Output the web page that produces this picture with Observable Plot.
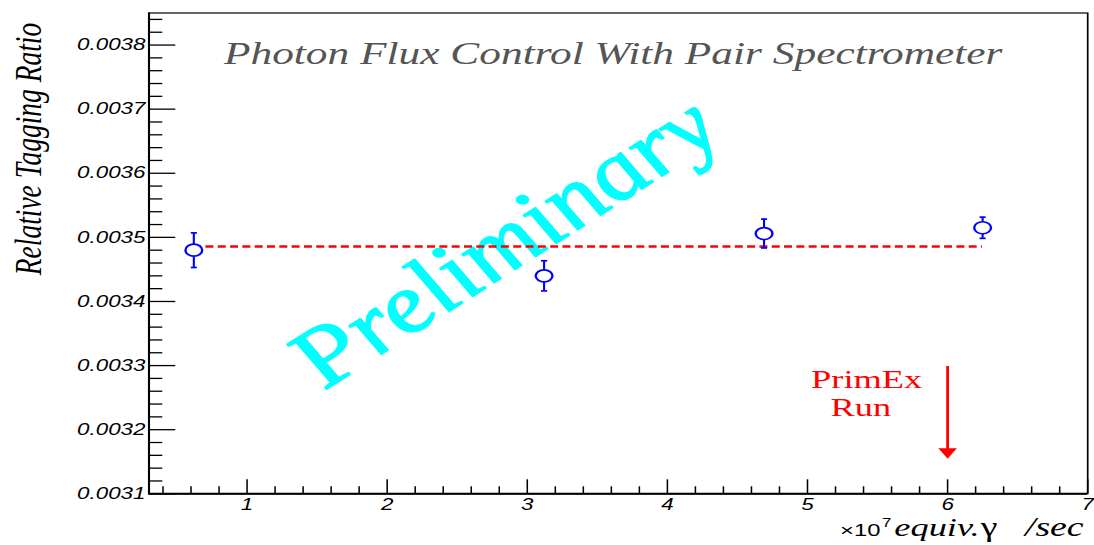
<!DOCTYPE html>
<html>
<head>
<meta charset="utf-8">
<script src="https://cdn.jsdelivr.net/npm/d3@7"></script>
<script src="https://cdn.jsdelivr.net/npm/@observablehq/plot@0.6"></script>
<style>
  html, body { margin: 0; padding: 0; background: white; }
  #chart svg { display: block; }
</style>
</head>
<body>
<div id="chart"></div>
<script>
// ---- data ----
const rate = [0.62, 3.12, 4.69, 6.25];                       // x10^7 equiv. gamma / sec
const ratio = [0.003480, 0.003440, 0.003506, 0.003515];      // relative tagging ratio
const ratioErr = [0.000027, 0.0000235, 0.0000225, 0.0000165];
const fitValue = 0.0034856;                                   // constant fit (dashed red)
const yTicks = [0.0031, 0.0032, 0.0033, 0.0034, 0.0035, 0.0036, 0.0037, 0.0038];
const xTicks = [1, 2, 3, 4, 5, 6, 7];
const arrowX = [6];
const arrowTop = 0.0032985;
const arrowTip = 0.0031546;
const titleText = ["Photon Flux Control With Pair Spectrometer"];
const yLabel = ["Relative Tagging Ratio"];
const watermark = ["Preliminary"];

// ---- layout (drawn narrow, then stretched horizontally like the reference) ----
const W = 782, H = 545, OUT_W = 1094;
const mL = 106, mR = 5, mT = 12.5, mB = 51.7;
const plotW = W - mL - mR, plotH = H - mT - mB;
const R = W - mR;

const points = rate.map((x, i) => ({x, y: ratio[i], lo: ratio[i] - ratioErr[i], hi: ratio[i] + ratioErr[i]}));
const yMinor = d3.range(155, 193).filter(i => i % 5 !== 0).map(i => i * 0.00002);
const xMinor = d3.range(2, 35).filter(i => i % 5 !== 0).map(i => i / 5);

const blue = "#0000ff", red = "#ff0000";
const capSymbol = {draw(ctx) { ctx.moveTo(-2.2, 0); ctx.lineTo(2.2, 0); }};
const downTriangle = {draw(ctx) { ctx.moveTo(-6.6, -10.5); ctx.lineTo(6.6, -10.5); ctx.lineTo(0, 0); ctx.closePath(); }};
const serif = "Liberation Serif";
const sans = "Liberation Sans";

const svg = Plot.plot({
  width: W, height: H,
  marginLeft: mL, marginRight: mR, marginTop: mT, marginBottom: mB,
  style: {fontFamily: sans, fontSize: "16px", background: "white", color: "black"},
  x: {domain: [0.3, 7]},
  y: {domain: [0.0031, 0.00385]},
  marks: [
    // watermark
    Plot.text(watermark, {text: d => d, frameAnchor: "top-left", dx: 253.6, dy: 229.5, rotate: -41.6,
      textAnchor: "middle", lineAnchor: "middle", fontSize: 80, fontStyle: "italic", fontFamily: serif,
      fill: "#00ffff", stroke: "#00ffff", strokeWidth: 1.3}),
    // frame
    Plot.frame({stroke: "black", strokeWidth: 1.2}),
    Plot.ruleX([0.3], {stroke: "black", strokeWidth: 1.5}),
    Plot.ruleY([0.0031], {stroke: "black", strokeWidth: 2}),
    // y ticks (inside)
    Plot.ruleY(yTicks, {stroke: "black", strokeWidth: 1.3, insetRight: plotW - 19.3}),
    Plot.ruleY(yMinor, {stroke: "black", strokeWidth: 1.3, insetRight: plotW - 10}),
    // x ticks (inside)
    Plot.ruleX(xTicks, {stroke: "black", strokeWidth: 1.1, insetTop: plotH - 14}),
    Plot.ruleX(xMinor, {stroke: "black", strokeWidth: 1.1, insetTop: plotH - 7}),
    // tick labels
    Plot.axisY({ticks: yTicks, tickSize: 0, tickPadding: 2.5, tickFormat: d => d.toFixed(4),
      label: null, fontStyle: "italic", fontSize: 16, fontFamily: sans, fill: "black"}),
    Plot.axisX({ticks: xTicks, tickSize: 0, tickPadding: 5, tickFormat: d => String(d),
      label: null, fontStyle: "italic", fontSize: 16, fontFamily: sans, fill: "black"}),
    // fit line
    Plot.ruleY([fitValue], {x1: rate[0], x2: rate[rate.length - 1], stroke: red, strokeWidth: 2.5, strokeDasharray: "5.7,3.1"}),
    // error bars
    Plot.ruleX(points, {x: "x", y1: "lo", y2: "hi", stroke: blue, strokeWidth: 1.5}),
    Plot.dot(points, {x: "x", y: "lo", symbol: capSymbol, stroke: blue, fill: "none", strokeWidth: 1.7}),
    Plot.dot(points, {x: "x", y: "hi", symbol: capSymbol, stroke: blue, fill: "none", strokeWidth: 1.7}),
    // markers
    Plot.dot(points, {x: "x", y: "y", r: 6, stroke: blue, fill: "white", strokeWidth: 1.7}),
    // PrimEx run arrow
    Plot.ruleX(arrowX, {y1: arrowTop, y2: arrowTip + 0.000012, stroke: red, strokeWidth: 2}),
    Plot.dot(arrowX, {x: d => d, y: () => arrowTip, symbol: downTriangle, fill: red, stroke: "none"}),
    Plot.text(["PrimEx"], {text: d => d, x: () => 5.422, y: () => 0.0032653, textAnchor: "middle", lineAnchor: "bottom",
      fontSize: 26, fontFamily: serif, fill: red}),
    Plot.text(["Run"], {text: d => d, x: () => 5.381, y: () => 0.003221, textAnchor: "middle", lineAnchor: "bottom",
      fontSize: 26, fontFamily: serif, fill: red}),
    // title
    Plot.text(titleText, {text: d => d, frameAnchor: "top-left", dx: 331.8, dy: 50.5, textAnchor: "middle", lineAnchor: "bottom",
      fontSize: 31, fontStyle: "italic", fontFamily: serif, fill: "#555555"}),
    // y label
    Plot.text(yLabel, {text: d => d, frameAnchor: "top-left", dx: 29 - mL, dy: 148.5 - mT, rotate: -90,
      textAnchor: "middle", lineAnchor: "bottom", fontSize: 27.5, fontStyle: "italic", fontFamily: serif, fill: "black"}),
    // x label pieces: ×10^7 equiv.γ /sec
    Plot.text(["\u00d710"], {text: d => d, frameAnchor: "bottom-right", dx: 600 - R, dy: 42.3, textAnchor: "start",
      lineAnchor: "bottom", fontSize: 17, fontFamily: sans, fill: "black"}),
    Plot.text(["7"], {text: d => d, frameAnchor: "bottom-right", dx: 630 - R, dy: 33.5, textAnchor: "start",
      lineAnchor: "bottom", fontSize: 12, fontFamily: sans, fill: "black"}),
    Plot.text(["equiv."], {text: d => d, frameAnchor: "bottom-right", dx: 638.8 - R, dy: 42.3, textAnchor: "start",
      lineAnchor: "bottom", fontSize: 26, fontStyle: "italic", fontFamily: serif, fill: "black"}),
    Plot.text(["\u03b3"], {text: d => d, frameAnchor: "bottom-right", dx: 700.5 - R, dy: 42.3, textAnchor: "start",
      lineAnchor: "bottom", fontSize: 27, fontFamily: serif, fill: "black"}),
    Plot.text(["/sec"], {text: d => d, frameAnchor: "bottom-right", dx: -2.9, dy: 42.3, textAnchor: "end",
      lineAnchor: "bottom", fontSize: 27, fontStyle: "italic", fontFamily: serif, fill: "black"})
  ]
});

svg.setAttribute("width", OUT_W);
svg.setAttribute("height", H);
svg.setAttribute("preserveAspectRatio", "none");
svg.style.width = OUT_W + "px";
svg.style.height = H + "px";
svg.style.maxWidth = "none";
document.getElementById("chart").appendChild(svg);
</script>
</body>
</html>
